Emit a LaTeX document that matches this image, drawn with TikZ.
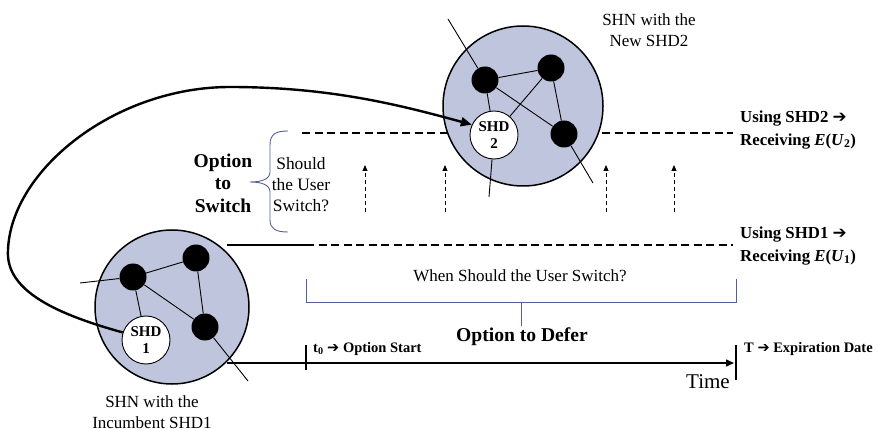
\documentclass[tikz,border=0pt]{standalone}
\usepackage{fontspec}
\setmainfont{Liberation Serif}
\newfontfamily\symf{DejaVu Sans}
\usetikzlibrary{arrows.meta}
\definecolor{netfill}{RGB}{191,197,220}
\definecolor{bracec}{RGB}{79,98,152}
\newcommand\EUval[1]{\textbf{\textit{E}(\textit{U}\textsubscript{#1})}}
\newcommand\harr{{\symf\bfseries ➔}}
\begin{document}
\begin{tikzpicture}[x=1pt,y=-1pt,
  net/.style={circle,draw,line width=1.5pt,fill=netfill,inner sep=0},
  blk/.style={circle,fill=black,minimum size=27pt,inner sep=0},
  shd/.style={circle,draw,line width=0.9pt,fill=white,minimum size=48pt,inner sep=0,align=center,
    font=\fontsize{15}{17}\selectfont\bfseries},
  link/.style={line width=0.9pt},
  mainline/.style={line width=1.5pt},
  dashline/.style={line width=1.5pt,dash pattern=on 8pt off 4.5pt},
  uparrow/.style={line width=0.9pt,dash pattern=on 4pt off 3pt,-{Triangle[length=6pt,width=5pt]}},
  bracket/.style={draw=bracec,line width=0.9pt},
  lbl/.style={inner sep=0,align=center},
]
\useasboundingbox (0,0) rectangle (878,430);

% option lines (behind circles)
\coordinate (up0) at (302,133);
\coordinate (up1) at (733,133);
\draw[dashline] (up0) -- (up1);
\coordinate (lo0) at (227,245);
\coordinate (lo1) at (306,245);
\coordinate (lo2) at (733,245);
\draw[mainline] (lo0) -- (lo1);
\draw[dashline] (lo1) -- (lo2);

% network circles
\node[net,minimum size=154pt] (net1) at (172,307) {};
\node[net,minimum size=160pt] (net2) at (523,106) {};

% network 1
\node[blk] (a1) at (133,277) {};
\node[blk] (b1) at (196,258) {};
\node[blk] (c1) at (205,327) {};
\node[shd] (shd1) at (146,340) {SHD\\1};
\coordinate (a1out) at (80,283);
\coordinate (c1out) at (248,381);
\draw[link] (a1out) -- (a1);
\draw[link] (a1) -- (b1);
\draw[link] (a1) -- (c1);
\draw[link] (b1) -- (c1);
\draw[link] (a1) -- (shd1);
\draw[link] (c1) -- (c1out);

% network 2
\node[blk] (d2) at (485,80) {};
\node[blk] (e2) at (551,68) {};
\node[blk] (f2) at (564,134) {};
\node[shd] (shd2) at (494,135) {SHD\\2};
\coordinate (d2out) at (448,19);
\coordinate (s2out) at (489,197);
\coordinate (f2out) at (593,183);
\draw[link] (d2out) -- (d2);
\draw[link] (d2) -- (e2);
\draw[link] (d2) -- (f2);
\draw[link] (e2) -- (f2);
\draw[link] (e2) -- (shd2);
\draw[link] (d2) -- (shd2);
\draw[link] (shd2) -- (s2out);
\draw[link] (f2) -- (f2out);

% switching curve
\coordinate (cl) at (8,250);
\coordinate (ct) at (230,87);
\draw[line width=2.4pt,-{Triangle[length=11pt,width=9pt]}]
  (shd1.162) .. controls (60,315) and (5,292) .. (cl)
  .. controls (11,170) and (115,87) .. (ct)
  .. controls (330,87) and (400,105) .. (shd2.155);

% dashed up arrows
\foreach \x/\n in {365/1,445/2,606/3,674/4}{
  \coordinate (ua\n) at (\x,212);
  \coordinate (ub\n) at (\x,165);
  \draw[uparrow] (ua\n) -- (ub\n);
}

% brace
\draw[bracket] (288,131) .. controls (276,131) and (270,134) .. (270,145) -- (270,172)
  .. controls (270,179) and (262,182) .. (250,182)
  .. controls (262,182) and (270,185) .. (270,192) -- (270,220)
  .. controls (270,229) and (276,232) .. (288,232);

% bottom bracket
\coordinate (bl0) at (306,279);
\coordinate (bl1) at (306,302);
\coordinate (br1) at (736,302);
\coordinate (br0) at (736,279);
\coordinate (bm0) at (521,302);
\coordinate (bm1) at (521,326);
\draw[bracket] (bl0) -- (bl1) -- (br1) -- (br0);
\draw[bracket] (bm0) -- (bm1);

% time axis
\coordinate (ax0) at (227,363);
\coordinate (ax1) at (734,363);
\draw[mainline,-{Triangle[length=8pt,width=7pt]}] (ax0) -- (ax1);
\coordinate (t0a) at (306,345);
\coordinate (t0b) at (306,370);
\coordinate (Ta) at (736,345);
\coordinate (Tb) at (736,380);
\draw[mainline] (t0a) -- (t0b);
\draw[mainline] (Ta) -- (Tb);

% texts
\node[lbl,font=\fontsize{17}{21}\selectfont] (lab2) at (649,30) {SHN with the\\New SHD2};
\node[lbl,font=\fontsize{17}{20.5}\selectfont] (lab1) at (152,412) {SHN with the\\Incumbent SHD1};
\node[lbl,font=\fontsize{19.5}{22.5}\selectfont\bfseries] (ots) at (223,183) {Option\\to\\Switch};
\node[lbl,font=\fontsize{17.4}{21}\selectfont] (q1) at (301,185) {Should\\the User\\Switch?};
\node[lbl,font=\fontsize{17}{20}\selectfont] (q2) at (520,276) {When Should the User Switch?};
\node[lbl,font=\fontsize{19.6}{22}\selectfont\bfseries] (otd) at (522,337) {Option to Defer};
\node[lbl,font=\fontsize{21}{24}\selectfont] (time) at (708,382) {Time};
\node[lbl,anchor=west,font=\fontsize{14.5}{17}\selectfont\bfseries] (t0l) at (313,349) {t\textsubscript{0} \harr{} Option Start};
\node[lbl,anchor=west,font=\fontsize{14.5}{17}\selectfont\bfseries] (Tl) at (744,349) {T \harr{} Expiration Date};
\node[lbl,anchor=west,align=left,font=\fontsize{16.8}{22.5}\selectfont\bfseries] (r2) at (740,130) {Using SHD2 \harr\\Receiving \EUval{2}};
\node[lbl,anchor=west,align=left,font=\fontsize{16.8}{22.5}\selectfont\bfseries] (r1) at (740,246) {Using SHD1 \harr\\Receiving \EUval{1}};
\end{tikzpicture}
\end{document}
